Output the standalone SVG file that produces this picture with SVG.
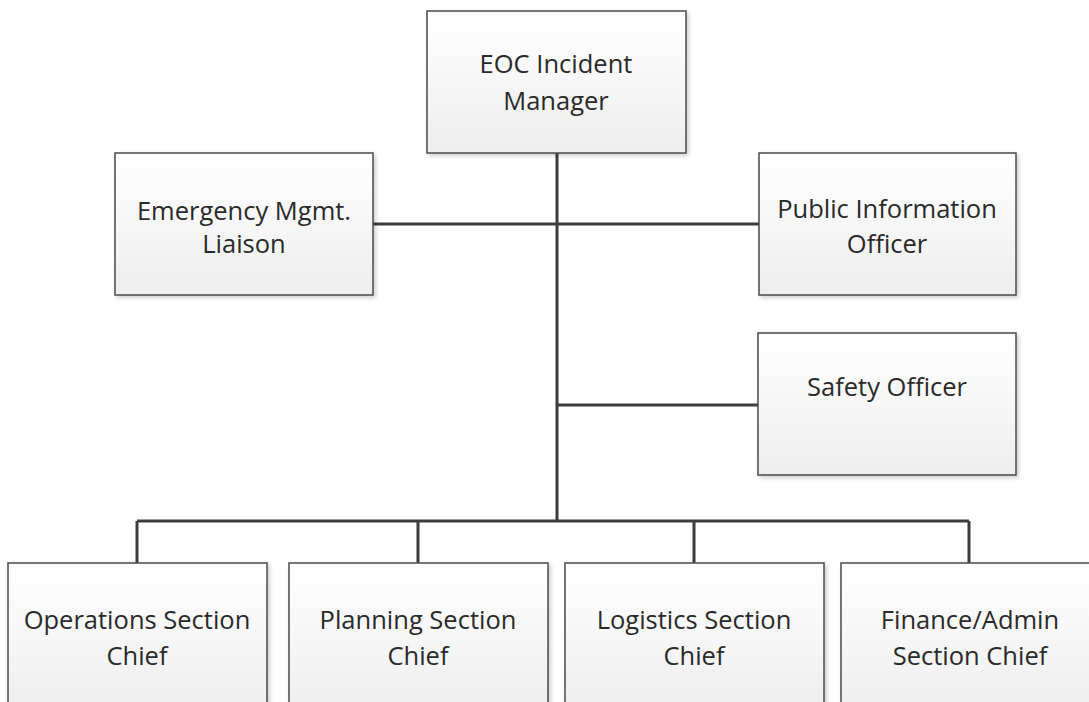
<svg xmlns="http://www.w3.org/2000/svg" width="1089" height="702" viewBox="0 0 1089 702">
<defs>
<linearGradient id="g" x1="0" y1="0" x2="0" y2="1">
<stop offset="0" stop-color="#ffffff"/>
<stop offset="1" stop-color="#eeeeee"/>
</linearGradient>
<filter id="sh" x="-5%" y="-5%" width="115%" height="115%">
<feGaussianBlur in="SourceAlpha" stdDeviation="2"/>
<feOffset dx="2" dy="2"/>
<feComponentTransfer><feFuncA type="linear" slope="0.2"/></feComponentTransfer>
<feMerge><feMergeNode/><feMergeNode in="SourceGraphic"/></feMerge>
</filter>
</defs>
<style>
.box{fill:url(#g);stroke:#4a4a4a;stroke-width:1.5;filter:url(#sh)}
.t{font-family:"Open Sans","Noto Sans",sans-serif;font-size:25.5px;fill:#2a2a2a;text-anchor:middle}
.c{stroke:#3c3c3c;stroke-width:3;fill:none}
</style>
<rect width="1089" height="702" fill="#ffffff"/>
<g id="connectors">
<path class="c" d="M557 153V521"/>
<path class="c" d="M373 224H759"/>
<path class="c" d="M557 405H758"/>
<path class="c" d="M137 521H969"/>
<path class="c" d="M137 521V563M418 521V563M694 521V563M969 521V563"/>
</g>
<g id="eoc"><rect class="box" x="427" y="11" width="259" height="142"/><text class="t" x="556" y="73">EOC Incident</text><text class="t" x="556" y="110">Manager</text></g>
<g id="liaison"><rect class="box" x="115" y="153" width="258" height="142"/><text class="t" x="244" y="220">Emergency Mgmt.</text><text class="t" x="244" y="253">Liaison</text></g>
<g id="pio"><rect class="box" x="759" y="153" width="257" height="142"/><text class="t" x="887" y="218">Public Information</text><text class="t" x="887" y="253">Officer</text></g>
<g id="safety"><rect class="box" x="758" y="333" width="258" height="142"/><text class="t" x="887" y="396">Safety Officer</text></g>
<g id="ops"><rect class="box" x="8" y="563" width="259" height="150"/><text class="t" x="137" y="629">Operations Section</text><text class="t" x="137" y="665">Chief</text></g>
<g id="plan"><rect class="box" x="289" y="563" width="259" height="150"/><text class="t" x="418" y="629">Planning Section</text><text class="t" x="418" y="665">Chief</text></g>
<g id="log"><rect class="box" x="565" y="563" width="259" height="150"/><text class="t" x="694" y="629">Logistics Section</text><text class="t" x="694" y="665">Chief</text></g>
<g id="fin"><rect class="box" x="841" y="563" width="259" height="150"/><text class="t" x="970" y="629">Finance/Admin</text><text class="t" x="970" y="665">Section Chief</text></g>
</svg>
